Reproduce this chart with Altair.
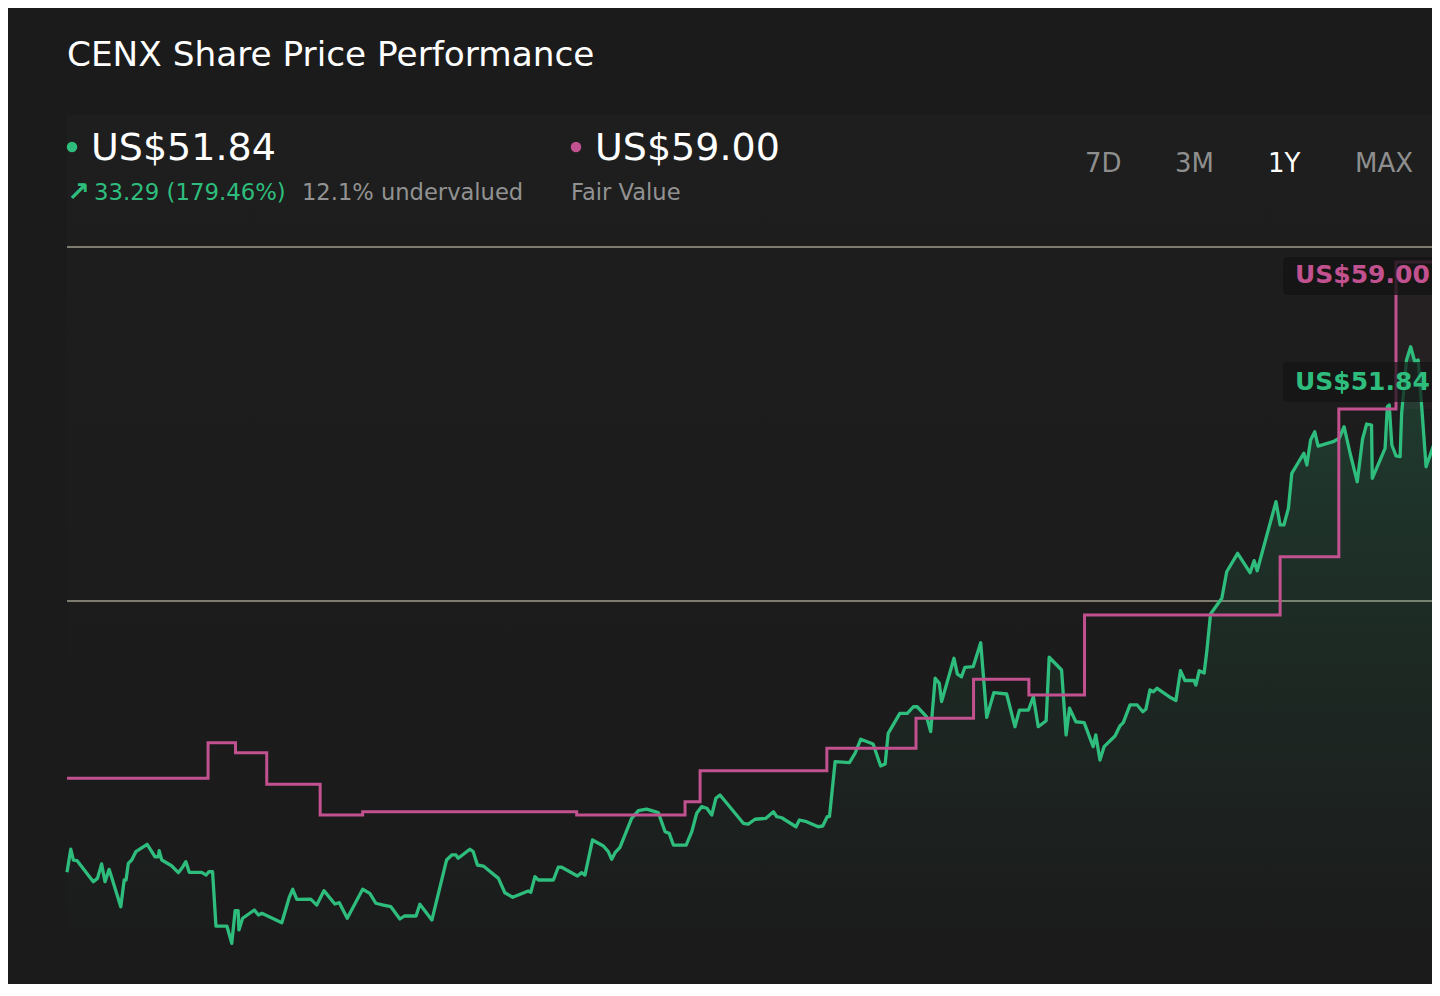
import altair as alt
import pandas as pd

# ---------------- data ----------------
# days since start of the 1Y window, and share price (US$)
green_day = [0, 1.0, 1.7, 2.7, 7.0, 8.1, 9.2, 10.1, 11.2, 14.3, 15.2, 15.7, 16.3, 17.2, 18.3, 21.3,
             23.4, 24.3, 24.5, 25.2, 27.8, 29.6, 30.8, 31.6, 32.5, 35.8, 37.0, 37.7, 38.7, 39.6,
             42.5, 43.8, 44.7, 45.5, 45.7, 46.7, 49.8, 50.9, 51.8, 57.1, 59.1, 60.0, 61.1, 64.8,
             66.4, 68.3, 71.2, 72.4, 74.5, 78.6, 80.5, 82.1, 84.1, 86.1, 88.5, 89.7, 92.8, 93.8,
             97.0, 100.9, 102.3, 103.4, 104.0, 107.1, 108.0, 109.1, 110.7, 114.7, 116.4, 118.5,
             122.6, 123.3, 124.4, 125.3, 129.3, 130.6, 131.5, 135.7, 136.8, 137.7, 139.7, 142.6,
             143.9, 144.8, 145.7, 147.0, 150.1, 151.9, 154.1, 157.2, 159.0, 160.1, 161.2, 164.6,
             166.1, 167.4, 168.7, 170.1, 171.4, 172.5, 173.6, 179.8, 181.1, 182.9, 185.8, 187.8,
             188.7, 190.0, 193.8, 194.7, 196.6, 199.7, 200.9, 202.1, 202.7, 204.2, 208.0, 209.5,
             211.0, 214.3, 216.3, 217.5, 218.3, 221.4, 223.4, 225.0, 226.0, 228.5, 229.6, 230.8,
             231.9, 232.5, 235.8, 236.7, 237.8, 238.7, 240.9, 242.9, 244.5, 246.4, 249.8, 252.0,
             253.2, 255.6, 256.9, 258.2, 260.3, 261.1, 264.4, 265.6, 266.5, 268.2, 270.4, 272.8,
             273.5, 274.6, 275.7, 278.6, 279.9, 280.8, 282.6, 284.5, 286.0, 286.8, 287.9, 288.8,
             289.8, 293.0, 294.8, 296.0, 297.2, 299.6, 300.1, 301.0, 302.3, 303.0, 304.0, 307.0,
             308.3, 311.2, 314.5, 315.6, 316.4, 321.4, 322.5, 323.5, 324.7, 325.6, 328.8, 329.6,
             330.6, 331.7, 332.6, 336.6, 338.2, 339.5, 341.1, 343.0, 344.4, 345.5, 346.8, 347.0,
             350.4, 351.0, 351.5, 352.2, 353.3, 354.4, 354.8, 356.1, 357.2, 358.3, 359.2, 360.1,
             361.3, 365.0]
green_price = [18.31, 19.85, 19.13, 19.09, 17.69, 17.91, 18.87, 17.69, 18.51, 16.02, 17.80, 17.80,
               18.91, 19.13, 19.69, 20.18, 19.35, 19.35, 19.75, 19.13, 18.75, 18.29, 18.69, 19.02,
               18.31, 18.31, 18.13, 18.35, 18.35, 14.73, 14.73, 13.58, 15.75, 15.75, 14.47, 15.25,
               15.80, 15.47, 15.58, 14.95, 16.65, 17.18, 16.51, 16.53, 16.13, 17.09, 16.20, 16.29,
               15.25, 17.18, 16.91, 16.25, 16.13, 16.02, 15.20, 15.40, 15.40, 16.18, 15.13, 19.13,
               19.47, 19.47, 19.25, 19.85, 19.69, 18.80, 18.73, 17.91, 16.95, 16.65, 17.07, 16.98,
               18.02, 17.80, 17.80, 18.65, 18.65, 18.07, 18.29, 18.13, 20.47, 20.07, 19.69, 19.18,
               19.62, 19.98, 21.91, 22.42, 22.53, 22.29, 21.02, 20.91, 20.13, 20.13, 21.02, 22.25,
               22.69, 22.58, 22.13, 23.25, 23.47, 21.58, 21.53, 21.85, 21.91, 22.35, 22.02, 21.95,
               21.35, 21.80, 21.69, 21.35, 21.40, 22.02, 22.02, 25.69, 25.62, 26.25, 27.18, 26.87,
               25.40, 25.53, 27.58, 28.91, 28.91, 29.35, 29.35, 28.69, 27.69, 31.25, 30.91, 29.69,
               32.58, 31.53, 31.35, 31.98, 32.02, 33.62, 28.65, 30.29, 30.20, 28.02, 29.13, 29.13,
               30.02, 28.02, 28.42, 32.65, 31.80, 27.47, 29.25, 28.35, 28.29, 26.69, 27.47, 25.80,
               26.69, 27.40, 28.07, 28.29, 29.47, 29.47, 29.02, 29.18, 30.47, 30.35, 30.58, 30.02,
               29.77, 31.75, 31.10, 31.10, 30.80, 31.75, 31.60, 33.03, 35.53, 36.58, 38.35, 39.58,
               38.29, 39.09, 38.42, 43.02, 41.47, 41.47, 42.58, 44.91, 46.25, 45.47, 47.13, 47.69,
               46.73, 47.02, 47.25, 48.02, 46.25, 44.35, 47.18, 48.20, 48.13, 44.58, 46.58, 49.35,
               49.47, 46.80, 46.07, 46.02, 48.91, 52.47, 53.35, 52.35, 52.47, 49.47, 45.35, 48.02]

# fair value estimate (step changes)
fv_day = [0, 37.5, 44.8, 53.1, 67.3, 78.6, 135.5, 164.3, 168.3, 202.0, 225.7, 241.0, 255.7,
          270.5, 322.5, 338.1, 353.3, 365.0]
fv_price = [24.58, 26.95, 26.29, 24.18, 22.13, 22.35, 22.13, 23.02, 25.09, 26.58, 28.58, 31.18,
            30.13, 35.47, 39.35, 49.20, 59.00, 59.00]

grid_values = [60, 36.4]

title_text = "CENX Share Price Performance"
price_text = "US$51.84"
fair_text = "US$59.00"
change_arrow = "↗"
change_text = "33.29 (179.46%)"
valuation_text = "12.1% undervalued"
fair_label = "Fair Value"
range_buttons = ["7D", "3M", "1Y", "MAX"]

# ---------------- styling / layout ----------------
FONT = "DejaVu Sans"
BG = "#1b1b1b"
GREEN = "#2ebd7d"
PINK = "#c2518f"
GRAY = "#929292"
W, H = 1424, 976
X0, X1 = 59, 1432          # pixel range of the 1Y window
PX_PER_USD = 15.0
Y_TOP_VALUE = 1139 / PX_PER_USD   # price at top edge of chart

xs = alt.Scale(domain=[0, 365], range=[X0, X1])
ys = alt.Scale(domain=[Y_TOP_VALUE - H / PX_PER_USD, Y_TOP_VALUE], range=[H, 0])

price_df = pd.DataFrame({"day": green_day, "price": green_price})
fv_df = pd.DataFrame({"day": fv_day, "fv": fv_price})
grid_df = pd.DataFrame({"v": grid_values})
one = pd.DataFrame({"t": [""]})


def txt(s, x, y, size, color, weight="normal", align="left"):
    return alt.Chart(pd.DataFrame({"t": [s]})).mark_text(
        align=align, baseline="alphabetic", font=FONT, fontSize=size,
        fontWeight=weight, color=color
    ).encode(x=alt.value(x), y=alt.value(y), text="t:N")


def box(x, x2, y, y2, fill, opacity):
    return alt.Chart(one).mark_rect(fill=fill, opacity=opacity, cornerRadius=4).encode(
        x=alt.value(x), x2=alt.value(x2), y=alt.value(y), y2=alt.value(y2))


panel = alt.Chart(one).mark_rect(
    fill=alt.Gradient(gradient="linear", x1=0, x2=0, y1=0, y2=1,
                      stops=[alt.GradientStop(color="#1d1e1d", offset=0),
                             alt.GradientStop(color=BG, offset=0.8)])
).encode(x=alt.value(X0), x2=alt.value(W), y=alt.value(107), y2=alt.value(H))

grid = alt.Chart(grid_df).mark_rule(color="#7e7c6e", strokeWidth=2).encode(
    x=alt.value(X0), x2=alt.value(W), y=alt.Y("v:Q", scale=ys, axis=None))

hl_df = pd.DataFrame({"d1": [fv_day[-2]], "d2": [fv_day[-1]],
                      "p1": [fv_price[-2]], "p2": [fv_price[-3]]})
highlight = alt.Chart(hl_df).mark_rect(fill=PINK, opacity=0.06).encode(
    x=alt.X("d1:Q", scale=xs, axis=None), x2="d2:Q",
    y=alt.Y("p1:Q", scale=ys, axis=None), y2="p2:Q")

area = alt.Chart(price_df).mark_area(
    fill=alt.Gradient(gradient="linear", x1=0, x2=0, y1=0, y2=1,
                      stops=[alt.GradientStop(color="rgba(46,189,125,0.20)", offset=0),
                             alt.GradientStop(color="rgba(46,189,125,0.08)", offset=0.4),
                             alt.GradientStop(color="rgba(46,189,125,0.0)", offset=0.75)])
).encode(x=alt.X("day:Q", scale=xs, axis=None),
         y=alt.Y("price:Q", scale=ys, axis=None), y2=alt.value(H))

price_line = alt.Chart(price_df).mark_line(color=GREEN, strokeWidth=3.3, strokeJoin="round").encode(
    x=alt.X("day:Q", scale=xs, axis=None), y=alt.Y("price:Q", scale=ys, axis=None))

fv_line = alt.Chart(fv_df).mark_line(color=PINK, strokeWidth=3, interpolate="step-after").encode(
    x=alt.X("day:Q", scale=xs, axis=None), y=alt.Y("fv:Q", scale=ys, axis=None))

layers = [
    panel, grid, highlight, area, price_line, fv_line,
    box(1275, W + 10, 249, 287, "#141414", 0.8),
    box(1275, W + 10, 354, 394, "#141414", 0.7),
    txt(fair_text, 1287, 275, 25, PINK, "bold"),
    txt(price_text, 1287, 382, 25, GREEN, "bold"),
    txt(title_text, 59, 58, 34.3, "#ffffff"),
    alt.Chart(one).mark_circle(size=110, color=GREEN, opacity=1).encode(x=alt.value(64), y=alt.value(139)),
    txt(price_text, 83, 152, 38, "#ffffff"),
    alt.Chart(one).mark_circle(size=110, color=PINK, opacity=1).encode(x=alt.value(568), y=alt.value(139)),
    txt(fair_text, 587, 152, 38, "#ffffff"),
    txt(change_arrow, 59, 193, 27, GREEN, "bold"),
    txt(change_text, 86, 192, 22.8, GREEN),
    txt(valuation_text, 294, 192, 22.6, GRAY),
    txt(fair_label, 563, 192, 22.6, GRAY),
]
btn_x = [1077, 1167, 1260, 1347]
for label, bx in zip(range_buttons, btn_x):
    layers.append(txt(label, bx, 164, 26, "#ffffff" if label == "1Y" else "#8e8e8e"))

chart = alt.layer(*layers).properties(
    width=W, height=H, padding=0, background=BG,
    autosize=alt.AutoSizeParams(type="none")
).configure_view(strokeWidth=0)

chart.save("out.html", embed_options={"renderer": "svg", "actions": False})
